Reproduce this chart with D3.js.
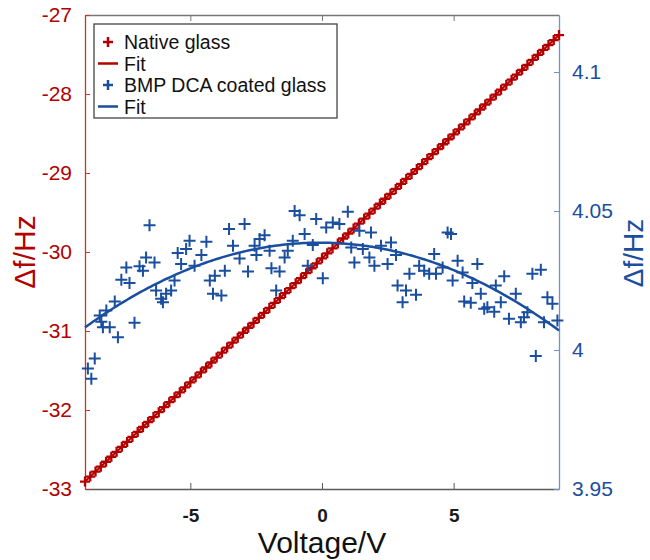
<!DOCTYPE html>
<html>
<head>
<meta charset="utf-8">
<script src="https://cdn.jsdelivr.net/npm/d3@7"></script>
<style>
  body { margin: 0; background: #fff; }
  svg { font-family: "Liberation Sans", Arial, sans-serif; }
</style>
</head>
<body>
<div class="chart"></div>
<script>
// native glass, 0.2 V steps
var nativeVoltage = [
    -9, -8.8, -8.6, -8.4, -8.2, -8, -7.8, -7.6, -7.4, -7.2,
    -7, -6.8, -6.6, -6.4, -6.2, -6, -5.8, -5.6, -5.4, -5.2,
    -5, -4.8, -4.6, -4.4, -4.2, -4, -3.8, -3.6, -3.4, -3.2,
    -3, -2.8, -2.6, -2.4, -2.2, -2, -1.8, -1.6, -1.4, -1.2,
    -1, -0.8, -0.6, -0.4, -0.2, 0, 0.2, 0.4, 0.6, 0.8,
    1, 1.2, 1.4, 1.6, 1.8, 2, 2.2, 2.4, 2.6, 2.8,
    3, 3.2, 3.4, 3.6, 3.8, 4, 4.2, 4.4, 4.6, 4.8,
    5, 5.2, 5.4, 5.6, 5.8, 6, 6.2, 6.4, 6.6, 6.8,
    7, 7.2, 7.4, 7.6, 7.8, 8, 8.2, 8.4, 8.6, 8.8, 9
];
var nativeShift = [
    -32.906, -32.843, -32.780, -32.718, -32.655, -32.592, -32.529, -32.466, -32.404, -32.341,
    -32.278, -32.215, -32.152, -32.090, -32.027, -31.964, -31.901, -31.838, -31.776, -31.713,
    -31.650, -31.587, -31.524, -31.462, -31.399, -31.336, -31.273, -31.210, -31.148, -31.085,
    -31.022, -30.959, -30.896, -30.834, -30.771, -30.708, -30.645, -30.582, -30.520, -30.457,
    -30.394, -30.331, -30.268, -30.206, -30.143, -30.080, -30.017, -29.954, -29.892, -29.829,
    -29.766, -29.703, -29.640, -29.578, -29.515, -29.452, -29.389, -29.326, -29.264, -29.201,
    -29.138, -29.075, -29.012, -28.950, -28.887, -28.824, -28.761, -28.698, -28.636, -28.573,
    -28.510, -28.447, -28.384, -28.322, -28.259, -28.196, -28.133, -28.070, -28.008, -27.945,
    -27.882, -27.819, -27.756, -27.694, -27.631, -27.568, -27.505, -27.442, -27.380, -27.317, -27.254
];
// linear fit: intercept, slope
var nativeFit = [-30.08, 0.314];

// BMP DCA coated glass (right axis)
var coatedVoltage = [
    -8.89, -8.76, -8.63, -8.44, -8.38, -8.32, -8.19, -8.06, -7.87, -7.75,
    -7.62, -7.43, -7.31, -7.12, -6.93, -6.80, -6.68, -6.55, -6.36, -6.30,
    -6.11, -6.04, -5.92, -5.73, -5.60, -5.48, -5.35, -5.16, -5.03, -4.84,
    -4.58, -4.39, -4.26, -4.14, -4.07, -3.82, -3.69, -3.53, -3.38, -3.13,
    -2.94, -2.81, -2.56, -2.49, -2.37, -2.18, -1.99, -1.92, -1.74, -1.61,
    -1.42, -1.30, -1.11, -1.04, -0.85, -0.66, -0.54, -0.35, -0.22, 0.03,
    0.16, 0.41, 0.66, 0.98, 1.11, 1.23, 1.42, 1.55, 1.80, 1.86,
    1.99, 2.24, 2.49, 2.62, 2.81, 2.87, 3.06, 3.19, 3.32, 3.57,
    3.69, 3.88, 4.07, 4.26, 4.33, 4.58, 4.77, 4.90, 4.96, 5.15,
    5.34, 5.40, 5.65, 5.71, 5.90, 6.03, 6.16, 6.28, 6.54, 6.60,
    6.79, 6.92, 7.10, 7.36, 7.55, 7.67, 7.80, 7.99, 8.12, 8.31,
    8.43, 8.56, 8.75, 8.94
];
var coatedShift = [
    3.9933, 3.9897, 3.9969, 4.0124, 4.0102, 4.0082, 4.0142, 4.0082, 4.0174, 4.0046,
    4.0253, 4.0297, 4.0241, 4.0098, 4.0301, 4.0285, 4.0333, 4.0449, 4.0315, 4.0214,
    4.0184, 4.0172, 4.0202, 4.0214, 4.0250, 4.0349, 4.0309, 4.0363, 4.0393, 4.0303,
    4.0342, 4.0389, 4.0250, 4.0202, 4.0267, 4.0196, 4.0285, 4.0435, 4.0375, 4.0329,
    4.0453, 4.0282, 4.0375, 4.0342, 4.0399, 4.0413, 4.0357, 4.0294, 4.0214, 4.0282,
    4.0333, 4.0357, 4.0393, 4.0500, 4.0485, 4.0417, 4.0303, 4.0378, 4.0471, 4.0258,
    4.0441, 4.0459, 4.0453, 4.0497, 4.0369, 4.0315, 4.0429, 4.0363, 4.0333, 4.0423,
    4.0303, 4.0375, 4.0309, 4.0387, 4.0342, 4.0232, 4.0172, 4.0214, 4.0274, 4.0199,
    4.0303, 4.0285, 4.0274, 4.0345, 4.0274, 4.0297, 4.0423, 4.0417, 4.0250, 4.0321,
    4.0279, 4.0174, 4.0170, 4.0241, 4.0309, 4.0202, 4.0148, 4.0154, 4.0138, 4.0232,
    4.0172, 4.0265, 4.0112, 4.0202, 4.0100, 4.0118, 4.0136, 4.0274, 3.9978, 4.0289,
    4.0100, 4.0190, 4.0166, 4.0106
];
// quadratic fit: c0, c1, c2
var coatedFit = [4.0386, -0.0000611, -0.000383];

var xTicks = [-5, 0, 5];
var leftTicks = [-33, -32, -31, -30, -29, -28, -27];
var rightTicks = [3.95, 4, 4.05, 4.1];
var legendLabels = ['Native glass', 'Fit', 'BMP DCA coated glass', 'Fit'];

var RED = '#b30000';
var BLUE = '#1a4e9e';

var width = 650, height = 560;
var margin = { left: 85, right: 91, top: 15, bottom: 71 };

var svg = d3.select('.chart')
    .append('svg')
    .attr('width', width)
    .attr('height', height);

var x = d3.scaleLinear().domain([-9, 9]).range([margin.left, width - margin.right]);
var yLeft = d3.scaleLinear().domain([-33, -27]).range([height - margin.bottom, margin.top]);
var yRight = d3.scaleLinear().domain([3.95, 4.1205]).range([height - margin.bottom, margin.top]);

var x0 = margin.left, x1 = width - margin.right;
var y0 = height - margin.bottom, y1 = margin.top;

// plain hyphen minus like the original
function fmt(d) { return String(d); }

function crossPath(s) {
    return 'M' + (-s) + ',0H' + s + 'M0,' + (-s) + 'V' + s;
}

// axes
var bottomAxis = svg.append('g')
    .attr('transform', 'translate(0,' + y0 + ')')
    .call(d3.axisBottom(x).tickValues(xTicks).tickSizeInner(-6).tickSizeOuter(0).tickPadding(19.5).tickFormat(fmt));
bottomAxis.select('.domain').attr('stroke', '#5a5a5a');
bottomAxis.selectAll('.tick line').attr('stroke', '#5a5a5a');
bottomAxis.selectAll('text')
    .attr('font-size', 19).attr('font-weight', 'bold').attr('fill', '#1a1a1a');

var topAxis = svg.append('g')
    .attr('transform', 'translate(0,' + y1 + ')')
    .call(d3.axisTop(x).tickValues(xTicks).tickSizeInner(-6).tickSizeOuter(0).tickFormat(''));
topAxis.select('.domain').attr('stroke', '#777');
topAxis.selectAll('.tick line').attr('stroke', '#777');

var leftAxis = svg.append('g')
    .attr('transform', 'translate(' + x0 + ',0)')
    .call(d3.axisLeft(yLeft).tickValues(leftTicks).tickSizeInner(-5).tickSizeOuter(0).tickPadding(13).tickFormat(fmt));
leftAxis.select('.domain').attr('stroke', '#c0392b');
leftAxis.selectAll('.tick line').attr('stroke', '#c0392b');
leftAxis.selectAll('text').attr('font-size', 21).attr('fill', RED);

var rightAxis = svg.append('g')
    .attr('transform', 'translate(' + x1 + ',0)')
    .call(d3.axisRight(yRight).tickValues(rightTicks).tickSizeInner(-5).tickSizeOuter(0).tickPadding(13).tickFormat(fmt));
rightAxis.select('.domain').attr('stroke', '#6f93d0');
rightAxis.selectAll('.tick line').attr('stroke', '#6f93d0');
rightAxis.selectAll('text').attr('font-size', 21).attr('fill', BLUE);

svg.selectAll('.domain').attr('stroke-width', 1.3);

// axis titles
svg.append('text')
    .attr('x', (x0 + x1) / 2).attr('y', 553)
    .attr('text-anchor', 'middle')
    .attr('font-size', 30)
    .attr('fill', '#111')
    .text('Voltage/V');

svg.append('text')
    .attr('transform', 'translate(35,' + (y0 + y1) / 2 + ') rotate(-90)')
    .attr('text-anchor', 'middle')
    .attr('font-size', 30)
    .attr('fill', RED)
    .text('Δf/Hz');

svg.append('text')
    .attr('transform', 'translate(643,' + ((y0 + y1) / 2 + 1) + ') rotate(-90)')
    .attr('text-anchor', 'middle')
    .attr('font-size', 28)
    .attr('fill', BLUE)
    .text('Δf/Hz');

// native glass markers + fit
var nativePts = nativeVoltage.map(function(v, i) { return { x: v, y: nativeShift[i] }; });

svg.append('g').selectAll('path')
    .data(nativePts)
    .enter()
    .append('path')
    .attr('transform', function(d) { return 'translate(' + x(d.x) + ',' + yLeft(d.y) + ')'; })
    .attr('d', crossPath(5))
    .attr('stroke', RED)
    .attr('stroke-width', 2.3)
    .attr('fill', 'none');

svg.append('path')
    .datum(x.domain())
    .attr('d', d3.line()
        .x(function(d) { return x(d); })
        .y(function(d) { return yLeft(nativeFit[0] + nativeFit[1] * d); }))
    .attr('stroke', RED)
    .attr('stroke-width', 2)
    .attr('fill', 'none');

// coated glass markers + fit
var coatedPts = coatedVoltage.map(function(v, i) { return { x: v, y: coatedShift[i] }; });

svg.append('g').selectAll('path')
    .data(coatedPts)
    .enter()
    .append('path')
    .attr('transform', function(d) { return 'translate(' + x(d.x) + ',' + yRight(d.y) + ')'; })
    .attr('d', crossPath(6))
    .attr('stroke', BLUE)
    .attr('stroke-width', 2)
    .attr('fill', 'none');

var fitX = d3.range(-9, 9.001, 0.1);
svg.append('path')
    .datum(fitX)
    .attr('d', d3.line()
        .x(function(d) { return x(d); })
        .y(function(d) { return yRight(coatedFit[0] + coatedFit[1] * d + coatedFit[2] * d * d); }))
    .attr('stroke', BLUE)
    .attr('stroke-width', 2.5)
    .attr('fill', 'none');

// legend
var legend = svg.append('g').attr('transform', 'translate(94,24)');
legend.append('rect')
    .attr('width', 243).attr('height', 94)
    .attr('fill', '#fff')
    .attr('stroke', '#444')
    .attr('stroke-width', 1.3);

var rows = legend.selectAll('.row')
    .data(legendLabels)
    .enter()
    .append('g')
    .attr('class', 'row')
    .attr('transform', function(d, i) { return 'translate(0,' + (18 + i * 21.5) + ')'; });

rows.each(function(d, i) {
    var g = d3.select(this);
    var c = i < 2 ? RED : BLUE;
    if (i % 2 === 0) {
        g.append('path')
            .attr('transform', 'translate(14,0)')
            .attr('d', crossPath(5))
            .attr('stroke', c).attr('stroke-width', 2.5).attr('fill', 'none');
    } else {
        g.append('line')
            .attr('x1', 4).attr('x2', 24)
            .attr('stroke', c).attr('stroke-width', 2.5);
    }
});

rows.append('text')
    .attr('x', 30).attr('y', 7)
    .attr('font-size', 19.5)
    .attr('fill', '#111')
    .text(function(d) { return d; });
</script>
</body>
</html>
